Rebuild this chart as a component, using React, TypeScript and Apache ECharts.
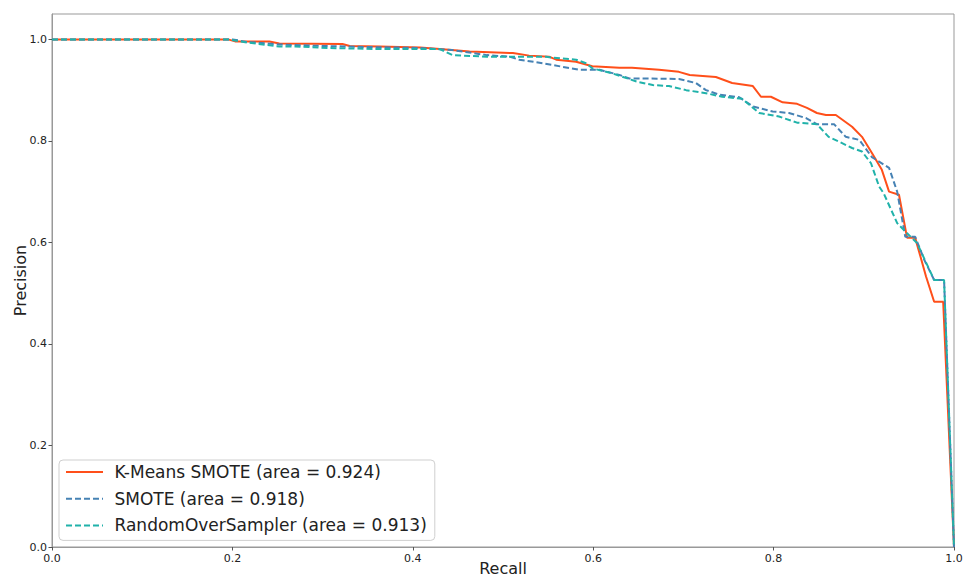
import React, { useEffect, useRef } from "react";
import * as echarts from "echarts";

const kmRecall = [0, 0.195, 0.203, 0.241, 0.252, 0.322, 0.33, 0.363, 0.408, 0.43, 0.463, 0.511, 0.529, 0.551, 0.559, 0.581, 0.599, 0.629, 0.643, 0.673, 0.695, 0.707, 0.736, 0.754, 0.777, 0.786, 0.797, 0.81, 0.826, 0.837, 0.848, 0.858, 0.869, 0.887, 0.898, 0.909, 0.92, 0.928, 0.939, 0.948, 0.957, 0.969, 0.978, 0.988, 1.0];
const kmPrecision = [1.0, 1.0, 0.996, 0.996, 0.992, 0.991, 0.987, 0.986, 0.984, 0.981, 0.976, 0.973, 0.968, 0.966, 0.96, 0.956, 0.947, 0.944, 0.944, 0.94, 0.936, 0.93, 0.926, 0.914, 0.908, 0.887, 0.887, 0.876, 0.873, 0.865, 0.855, 0.851, 0.851, 0.828, 0.808, 0.776, 0.743, 0.7, 0.694, 0.609, 0.609, 0.533, 0.483, 0.483, 0.0];

const smRecall = [0, 0.2, 0.216, 0.252, 0.3, 0.35, 0.408, 0.444, 0.482, 0.507, 0.518, 0.544, 0.566, 0.585, 0.607, 0.629, 0.64, 0.659, 0.695, 0.714, 0.725, 0.74, 0.762, 0.777, 0.799, 0.817, 0.836, 0.848, 0.867, 0.88, 0.895, 0.909, 0.928, 0.937, 0.946, 0.957, 0.967, 0.978, 0.989, 1.0];
const smPrecision = [1.0, 1.0, 0.995, 0.99, 0.987, 0.985, 0.983, 0.979, 0.969, 0.966, 0.96, 0.953, 0.946, 0.94, 0.94, 0.93, 0.923, 0.923, 0.922, 0.914, 0.9, 0.891, 0.886, 0.868, 0.858, 0.855, 0.845, 0.833, 0.833, 0.808, 0.802, 0.768, 0.747, 0.7, 0.611, 0.611, 0.566, 0.526, 0.526, 0.0];

const roRecall = [0, 0.195, 0.216, 0.252, 0.27, 0.308, 0.363, 0.43, 0.444, 0.482, 0.507, 0.548, 0.555, 0.581, 0.592, 0.599, 0.621, 0.648, 0.666, 0.684, 0.703, 0.725, 0.743, 0.765, 0.784, 0.806, 0.826, 0.848, 0.861, 0.872, 0.887, 0.898, 0.908, 0.917, 0.922, 0.937, 0.948, 0.959, 0.978, 0.989, 1.0];
const roPrecision = [1.0, 1.0, 0.994, 0.986, 0.986, 0.983, 0.981, 0.981, 0.969, 0.966, 0.966, 0.966, 0.964, 0.96, 0.953, 0.943, 0.933, 0.917, 0.91, 0.908, 0.9, 0.894, 0.887, 0.883, 0.855, 0.848, 0.836, 0.833, 0.808, 0.799, 0.786, 0.779, 0.756, 0.71, 0.697, 0.638, 0.618, 0.599, 0.526, 0.526, 0.0];

const seriesNames = [
  "K-Means SMOTE (area = 0.924)",
  "SMOTE (area = 0.918)",
  "RandomOverSampler (area = 0.913)",
];
const xTicks = [0, 0.2, 0.4, 0.6, 0.8, 1.0];
const yTicks = [0, 0.2, 0.4, 0.6, 0.8, 1.0];

const FONT = "DejaVu Sans";

function pairs(xs: number[], ys: number[]) {
  return xs.map((x, i) => [x, ys[i]]);
}

export default function App() {
  const ref = useRef<HTMLDivElement>(null);
  useEffect(() => {
    document.body.style.margin = "0";
    if (!ref.current) return;
    const chart = echarts.init(ref.current, null, { renderer: "svg" });
    const axisCommon = {
      type: "value" as const,
      interval: 0.2,
      axisLine: { show: true, lineStyle: { color: "#999", width: 1 } },
      axisTick: { show: true, inside: false, length: 3.5, lineStyle: { color: "#555", width: 1 } },
      splitLine: { show: false },
      axisLabel: {
        color: "#222",
        fontFamily: FONT,
        fontSize: 11,
        formatter: (v: number) => v.toFixed(1),
      },
      nameLocation: "middle" as const,
      nameMoveOverlap: false,
      nameTextStyle: { color: "#222", fontFamily: FONT, fontSize: 16, lineHeight: 16 },
    };
    chart.setOption({
      animation: false,
      backgroundColor: "#fff",
      grid: {
        left: 52,
        top: 14,
        right: 11,
        bottom: 30,
        show: true,
        borderColor: "#999",
        borderWidth: 1,
        containLabel: false,
        outerBoundsMode: "none",
      },
      xAxis: {
        ...axisCommon,
        min: xTicks[0],
        max: xTicks[xTicks.length - 1],
        name: "Recall",
        nameGap: 13,
        axisLabel: { ...axisCommon.axisLabel, margin: 6 },
      },
      yAxis: {
        ...axisCommon,
        min: yTicks[0],
        max: 1.05,
        name: "Precision",
        nameGap: 24,
        axisLabel: { ...axisCommon.axisLabel, margin: 5, showMaxLabel: false },
      },
      legend: {
        orient: "vertical",
        left: 59,
        top: 460,
        backgroundColor: "rgba(255,255,255,0.85)",
        borderColor: "#cfcfcf",
        borderWidth: 1,
        borderRadius: 4,
        padding: [3, 8, 6, 6],
        itemWidth: 37,
        itemHeight: 14,
        itemGap: 8.7,
        itemStyle: { color: "rgba(0,0,0,0)", borderWidth: 0, opacity: 0 },
        textStyle: { color: "#222", fontFamily: FONT, fontSize: 17, lineHeight: 18, padding: [0, 0, 0, 6.5] },
        data: seriesNames,
      },
      series: [
        {
          name: seriesNames[0],
          type: "line",
          data: pairs(kmRecall, kmPrecision),
          showSymbol: false,
          symbol: "none",
          lineStyle: { color: "#ff4f1a", width: 2 },
          itemStyle: { color: "#ff4f1a" },
          z: 3,
        },
        {
          name: seriesNames[1],
          type: "line",
          data: pairs(smRecall, smPrecision),
          showSymbol: false,
          symbol: "none",
          lineStyle: { color: "#4682b4", width: 2, type: [6, 3] },
          itemStyle: { color: "#4682b4" },
          z: 4,
        },
        {
          name: seriesNames[2],
          type: "line",
          data: pairs(roRecall, roPrecision),
          showSymbol: false,
          symbol: "none",
          lineStyle: { color: "#20b2aa", width: 2, type: [6, 3] },
          itemStyle: { color: "#20b2aa" },
          z: 5,
        },
      ],
    });
    return () => chart.dispose();
  }, []);
  return <div ref={ref} style={{ width: 965, height: 577 }} />;
}
